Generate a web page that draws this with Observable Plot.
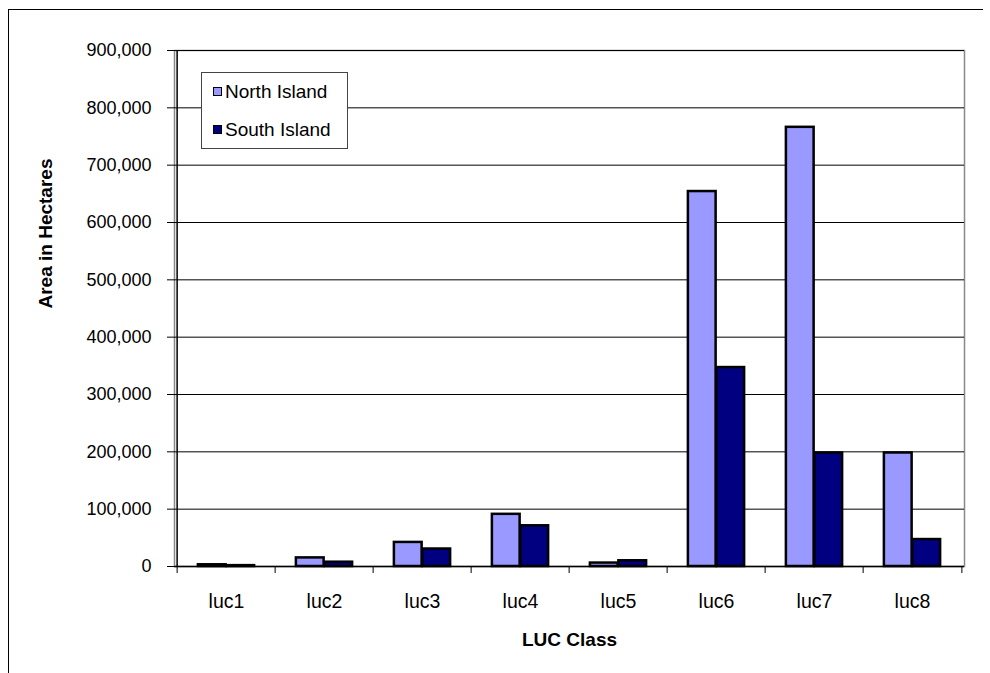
<!DOCTYPE html>
<html>
<head>
<meta charset="utf-8">
<script src="https://cdn.jsdelivr.net/npm/d3@7"></script>
<script src="https://cdn.jsdelivr.net/npm/@observablehq/plot@0.6"></script>
<style>
  html, body { margin: 0; padding: 0; background: #fff; }
  #wrap { position: relative; width: 990px; height: 673px; overflow: hidden; font-family: "Liberation Sans", Arial, sans-serif; }
  #border { position: absolute; left: 8px; top: 9px; width: 974px; height: 700px; border-left: 1.5px solid #000; border-top: 1.5px solid #000; pointer-events: none; }
  #legend { position: absolute; left: 201px; top: 72px; width: 145px; height: 75px; border: 1.5px solid #444; background: #fff; font-size: 19px; color: #000; }
  .item { position: absolute; left: 11px; height: 22px; line-height: 22px; white-space: nowrap; }
  .sw { display: inline-block; width: 7px; height: 7px; border: 1.5px solid #000; margin-right: 3px; vertical-align: 2px; }
  svg { position: absolute; left: 0; top: 0; }
</style>
</head>
<body>
<div id="wrap"><div id="border"></div></div>
<script>
const categories = ["luc1", "luc2", "luc3", "luc4", "luc5", "luc6", "luc7", "luc8"];
const northIsland = [3000, 15000, 42000, 91000, 6000, 654000, 766000, 198000];
const southIsland = [1500, 7500, 30500, 71000, 10000, 347000, 198000, 47000];
const seriesNames = ["North Island", "South Island"];
const seriesColors = ["#9999FF", "#000080"];
const yTicks = [0, 100000, 200000, 300000, 400000, 500000, 600000, 700000, 800000, 900000];
const xTitle = "LUC Class";
const yTitle = "Area in Hectares";

const W = 990, H = 673;
const mL = 174, mR = 26, mT = 50, mB = 107;
const bw = (W - mL - mR) / categories.length;
const gap = bw * 0.2115;
const half = bw / 2;

const rows = categories.map((c, i) => ({cat: c, north: northIsland[i], south: southIsland[i]}));
const font = "Liberation Sans, Arial, sans-serif";

const chart = Plot.plot({
  width: W, height: H,
  marginLeft: mL, marginRight: mR, marginTop: mT, marginBottom: mB,
  style: {fontFamily: font, fontSize: "19px", color: "#000", background: "transparent"},
  x: {domain: categories, padding: 0, axis: null},
  y: {domain: [0, 900000], axis: null},
  marks: [
    Plot.frame({stroke: "#888", strokeWidth: 1.5}),
    Plot.gridY(yTicks, {stroke: "#000", strokeOpacity: 1, strokeWidth: 1}),
    Plot.barY(rows, {x: "cat", y: "north", fill: seriesColors[0], stroke: "#000", strokeWidth: 2.5, insetLeft: gap, insetRight: half}),
    Plot.barY(rows, {x: "cat", y: "south", fill: seriesColors[1], stroke: "#000", strokeWidth: 2.5, insetLeft: half, insetRight: gap}),
    Plot.ruleY([0], {stroke: "#000", strokeWidth: 1.5}),
    Plot.ruleX([categories[0]], {dx: -half, stroke: "#000", strokeWidth: 1.5}),
    Plot.axisY({ticks: yTicks, tickFormat: d3.format(","), tickSize: 7, tickPadding: 16, label: null, fontSize: 18, stroke: "#000"}),
    Plot.axisX({ticks: categories, tickSize: 7, dx: -half, tickFormat: () => "", label: null, stroke: "#000"}),
    Plot.axisX({ticks: [categories[categories.length - 1]], tickSize: 7, dx: half, tickFormat: () => "", label: null, stroke: "#000"}),
    Plot.axisX({ticks: categories, tickSize: 0, tickPadding: 28, label: null, fontSize: 19.5}),
    Plot.text([yTitle], {text: d => d, frameAnchor: "left", dx: -129, rotate: -90, fontWeight: "bold", fontSize: 19}),
    Plot.text([xTitle], {text: d => d, frameAnchor: "bottom", dy: 79, fontWeight: "bold", fontSize: 19})
  ]
});

const wrap = document.getElementById("wrap");
wrap.insertBefore(chart, wrap.firstChild);

const legend = document.createElement("div");
legend.id = "legend";
seriesNames.forEach((name, i) => {
  const item = document.createElement("div");
  item.className = "item";
  item.style.top = (8 + i * 38) + "px";
  const sw = document.createElement("span");
  sw.className = "sw";
  sw.style.background = seriesColors[i];
  item.appendChild(sw);
  item.appendChild(document.createTextNode(name));
  legend.appendChild(item);
});
wrap.appendChild(legend);
</script>
</body>
</html>
